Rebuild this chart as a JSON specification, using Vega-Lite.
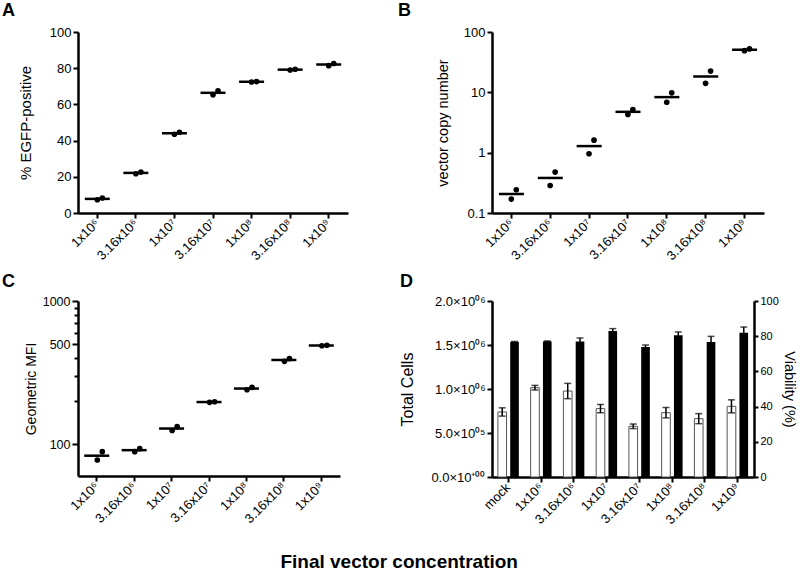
{
  "$schema": "https://vega.github.io/schema/vega-lite/v6.json",
  "padding": {"left": 2, "top": 2, "right": 0, "bottom": 0},
  "background": "white",
  "config": {
    "font": "Liberation Sans",
    "view": {"stroke": null},
    "axis": {"domainColor": "black", "domainWidth": 2.5, "tickColor": "black", "tickWidth": 2, "tickSize": 5, "labelColor": "black", "titleColor": "black", "labelFontSize": 13, "titleFontSize": 14.5, "titleFontWeight": "normal", "grid": false, "labelPadding": 2, "labelOverlap": false},
    "title": {"fontSize": 18, "fontWeight": "bold", "color": "black", "anchor": "start", "frame": "group"}
  },
  "title": {"text": "Final vector concentration", "orient": "bottom", "anchor": "middle", "frame": "bounds", "fontSize": 19, "fontWeight": "bold", "offset": 26},
  "datasets": {
    "egfp": [
      {"conc": "1x10⁶", "rep": 1, "value": 7.3}, {"conc": "1x10⁶", "rep": 2, "value": 8.3},
      {"conc": "3.16x10⁶", "rep": 1, "value": 21.7}, {"conc": "3.16x10⁶", "rep": 2, "value": 22.6},
      {"conc": "1x10⁷", "rep": 1, "value": 43.5}, {"conc": "1x10⁷", "rep": 2, "value": 44.6},
      {"conc": "3.16x10⁷", "rep": 1, "value": 65.3}, {"conc": "3.16x10⁷", "rep": 2, "value": 67.5},
      {"conc": "1x10⁸", "rep": 1, "value": 72.4}, {"conc": "1x10⁸", "rep": 2, "value": 72.6},
      {"conc": "3.16x10⁸", "rep": 1, "value": 79.0}, {"conc": "3.16x10⁸", "rep": 2, "value": 79.4},
      {"conc": "1x10⁹", "rep": 1, "value": 81.4}, {"conc": "1x10⁹", "rep": 2, "value": 82.6}
    ],
    "vcn": [
      {"conc": "1x10⁶", "rep": 1, "value": 0.17}, {"conc": "1x10⁶", "rep": 2, "value": 0.243},
      {"conc": "3.16x10⁶", "rep": 1, "value": 0.286}, {"conc": "3.16x10⁶", "rep": 2, "value": 0.476},
      {"conc": "1x10⁷", "rep": 1, "value": 0.96}, {"conc": "1x10⁷", "rep": 2, "value": 1.61},
      {"conc": "3.16x10⁷", "rep": 1, "value": 4.3}, {"conc": "3.16x10⁷", "rep": 2, "value": 5.2},
      {"conc": "1x10⁸", "rep": 1, "value": 6.86}, {"conc": "1x10⁸", "rep": 2, "value": 9.8},
      {"conc": "3.16x10⁸", "rep": 1, "value": 14.1}, {"conc": "3.16x10⁸", "rep": 2, "value": 22.5},
      {"conc": "1x10⁹", "rep": 1, "value": 49}, {"conc": "1x10⁹", "rep": 2, "value": 52.5}
    ],
    "mfi": [
      {"conc": "1x10⁶", "rep": 1, "value": 77.6}, {"conc": "1x10⁶", "rep": 2, "value": 88.7},
      {"conc": "3.16x10⁶", "rep": 1, "value": 88.7}, {"conc": "3.16x10⁶", "rep": 2, "value": 93.1},
      {"conc": "1x10⁷", "rep": 1, "value": 124.6}, {"conc": "1x10⁷", "rep": 2, "value": 132.8},
      {"conc": "3.16x10⁷", "rep": 1, "value": 196}, {"conc": "3.16x10⁷", "rep": 2, "value": 198},
      {"conc": "1x10⁸", "rep": 1, "value": 240}, {"conc": "1x10⁸", "rep": 2, "value": 249.5},
      {"conc": "3.16x10⁸", "rep": 1, "value": 379}, {"conc": "3.16x10⁸", "rep": 2, "value": 396},
      {"conc": "1x10⁹", "rep": 1, "value": 487}, {"conc": "1x10⁹", "rep": 2, "value": 491}
    ],
    "viab": [
      {"conc": "mock", "measure": "Total Cells", "value": 739000, "lo": 692000, "hi": 786000},
      {"conc": "1x10⁶", "measure": "Total Cells", "value": 1015000, "lo": 989000, "hi": 1041000},
      {"conc": "3.16x10⁶", "measure": "Total Cells", "value": 977000, "lo": 890000, "hi": 1064000},
      {"conc": "1x10⁷", "measure": "Total Cells", "value": 777000, "lo": 730000, "hi": 824000},
      {"conc": "3.16x10⁷", "measure": "Total Cells", "value": 576000, "lo": 550000, "hi": 602000},
      {"conc": "1x10⁸", "measure": "Total Cells", "value": 731000, "lo": 672000, "hi": 790000},
      {"conc": "3.16x10⁸", "measure": "Total Cells", "value": 663000, "lo": 606000, "hi": 720000},
      {"conc": "1x10⁹", "measure": "Total Cells", "value": 803000, "lo": 729000, "hi": 877000},
      {"conc": "mock", "measure": "Viability", "value": 76.7, "lo": 76.4, "hi": 77.0},
      {"conc": "1x10⁶", "measure": "Viability", "value": 77.0, "lo": 76.7, "hi": 77.3},
      {"conc": "3.16x10⁶", "measure": "Viability", "value": 77.0, "lo": 75.0, "hi": 79.0},
      {"conc": "1x10⁷", "measure": "Viability", "value": 83.0, "lo": 81.7, "hi": 84.3},
      {"conc": "3.16x10⁷", "measure": "Viability", "value": 73.9, "lo": 72.8, "hi": 75.0},
      {"conc": "1x10⁸", "measure": "Viability", "value": 80.5, "lo": 78.6, "hi": 82.4},
      {"conc": "3.16x10⁸", "measure": "Viability", "value": 76.7, "lo": 73.5, "hi": 79.9},
      {"conc": "1x10⁹", "measure": "Viability", "value": 82.0, "lo": 78.8, "hi": 85.2}
    ]
  },
  "columns": 2,
  "spacing": {"row": 10, "column": 50},
  "concat": [
    {
      "width": 270, "height": 181,
      "title": {"text": "A", "dx": -76, "offset": 6},
      "data": {"name": "egfp"},
      "encoding": {
        "x": {"field": "conc", "type": "nominal", "sort": ["1x10⁶","3.16x10⁶","1x10⁷","3.16x10⁷","1x10⁸","3.16x10⁸","1x10⁹"], "scale": {"type": "band", "paddingInner": 0, "paddingOuter": 0},
              "axis": {"title": null, "labelAngle": -45, "labelAlign": "right", "labelBaseline": "middle", "labelPadding": 3, "labelOverlap": false}}
      },
      "layer": [
        {"mark": {"type": "tick", "color": "black", "thickness": 2.5, "size": 25},
         "encoding": {"y": {"aggregate": "mean", "field": "value", "type": "quantitative", "title": "% EGFP-positive", "scale": {"domain": [0, 100], "nice": false},
                            "axis": {"values": [0, 20, 40, 60, 80, 100], "tickCount": 6, "labelOverlap": false, "titlePadding": 16, "titleFontSize": 15}}}},
        {"mark": {"type": "circle", "color": "black", "size": 32, "opacity": 1},
         "encoding": {"y": {"field": "value", "type": "quantitative", "title": "% EGFP-positive"},
                      "xOffset": {"field": "rep", "type": "nominal", "scale": {"type": "band", "domain": [1, 2], "range": [16.8, 26.8]}}}}
      ]
    },
    {
      "width": 272, "height": 181,
      "title": {"text": "B", "dx": -94, "offset": 6},
      "data": {"name": "vcn"},
      "encoding": {
        "x": {"field": "conc", "type": "nominal", "sort": ["1x10⁶","3.16x10⁶","1x10⁷","3.16x10⁷","1x10⁸","3.16x10⁸","1x10⁹"], "scale": {"type": "band", "paddingInner": 0, "paddingOuter": 0},
              "axis": {"title": null, "labelAngle": -45, "labelAlign": "right", "labelBaseline": "middle", "labelPadding": 3, "labelOverlap": false}}
      },
      "layer": [
        {"mark": {"type": "tick", "color": "black", "thickness": 2.5, "size": 25},
         "encoding": {"y": {"aggregate": "mean", "field": "value", "type": "quantitative", "title": "vector copy number", "scale": {"type": "log", "domain": [0.1, 100], "nice": false},
                            "axis": {"values": [0.1, 1, 10, 100], "tickCount": 4, "format": "~g", "labelOverlap": false, "titlePadding": 13, "titleFontSize": 14.5}}}},
        {"mark": {"type": "circle", "color": "black", "size": 32, "opacity": 1},
         "encoding": {"y": {"field": "value", "type": "quantitative", "title": "vector copy number", "scale": {"type": "log", "domain": [0.1, 100], "nice": false}},
                      "xOffset": {"field": "rep", "type": "nominal", "scale": {"type": "band", "domain": [1, 2], "range": [16.9, 26.9]}}}}
      ]
    },
    {
      "width": 262, "height": 175,
      "title": {"text": "C", "dx": -76, "offset": 4},
      "data": {"name": "mfi"},
      "encoding": {
        "x": {"field": "conc", "type": "nominal", "sort": ["1x10⁶","3.16x10⁶","1x10⁷","3.16x10⁷","1x10⁸","3.16x10⁸","1x10⁹"], "scale": {"type": "band", "paddingInner": 0, "paddingOuter": 0},
              "axis": {"title": null, "labelAngle": -45, "labelAlign": "right", "labelBaseline": "middle", "labelPadding": 3, "labelOverlap": false}}
      },
      "layer": [
        {"mark": {"type": "tick", "color": "black", "thickness": 2.5, "size": 25},
         "encoding": {"y": {"aggregate": "mean", "field": "value", "type": "quantitative", "title": "Geometric MFI", "scale": {"type": "log", "domain": [60, 1000], "nice": false},
                            "axis": {"values": [100, 200, 300, 400, 500, 600, 700, 800, 900, 1000], "tickCount": 10,
                                     "labelExpr": "datum.value == 100 || datum.value == 500 || datum.value == 1000 ? format(datum.value, 'd') : ''",
                                     "tickSize": {"condition": {"test": "datum.value == 100 || datum.value == 500 || datum.value == 1000", "value": 6}, "value": 4},
                                     "labelOverlap": false, "titlePadding": 4, "titleFontSize": 14, "labelFontSize": 12.5}}}},
        {"mark": {"type": "circle", "color": "black", "size": 32, "opacity": 1},
         "encoding": {"y": {"field": "value", "type": "quantitative", "title": "Geometric MFI", "scale": {"type": "log", "domain": [60, 1000], "nice": false}},
                      "xOffset": {"field": "rep", "type": "nominal", "scale": {"type": "band", "domain": [1, 2], "range": [16.2, 26.2]}}}}
      ]
    },
    {
      "width": 262, "height": 176,
      "title": {"text": "D", "dx": -92, "offset": 4},
      "data": {"name": "viab"},
      "encoding": {
        "x": {"field": "conc", "type": "nominal", "sort": ["mock","1x10⁶","3.16x10⁶","1x10⁷","3.16x10⁷","1x10⁸","3.16x10⁸","1x10⁹"], "scale": {"type": "band", "paddingInner": 0, "paddingOuter": 0},
              "axis": {"title": null, "labelAngle": -45, "labelAlign": "right", "labelBaseline": "middle", "labelPadding": 3, "labelOverlap": false}}
      },
      "layer": [
        {
          "transform": [{"filter": "datum.measure == 'Total Cells'"}],
          "layer": [
            {"mark": {"type": "bar", "fill": "white", "stroke": "#555555", "strokeWidth": 1, "width": {"band": 0.264}, "xOffset": -6.15},
             "encoding": {"y": {"field": "value", "type": "quantitative", "title": "Total Cells", "scale": {"domain": [0, 2000000], "nice": false},
                                "axis": {"values": [0, 500000, 1000000, 1500000, 2000000], "tickCount": 5, "labelOverlap": false,
                                         "labelExpr": "datum.value == 0 ? '0.0×10⁺⁰⁰' : datum.value == 500000 ? '5.0×10⁰⁵' : format(datum.value / 1000000, '.1f') + '×10⁰⁶'",
                                         "titlePadding": 15, "titleFontSize": 16}}}},
            {"mark": {"type": "rule", "color": "black", "strokeWidth": 1.5, "xOffset": -6.15},
             "encoding": {"y": {"field": "lo", "type": "quantitative", "title": "Total Cells"}, "y2": {"field": "hi"}}},
            {"mark": {"type": "tick", "color": "black", "thickness": 1.5, "size": 7, "xOffset": -6.15},
             "encoding": {"y": {"field": "lo", "type": "quantitative", "title": "Total Cells"}}},
            {"mark": {"type": "tick", "color": "black", "thickness": 1.5, "size": 7, "xOffset": -6.15},
             "encoding": {"y": {"field": "hi", "type": "quantitative", "title": "Total Cells"}}}
          ]
        },
        {
          "transform": [{"filter": "datum.measure == 'Viability'"}],
          "layer": [
            {"mark": {"type": "bar", "fill": "black", "width": {"band": 0.264}, "xOffset": 6.15},
             "encoding": {"y": {"field": "value", "type": "quantitative", "title": "Viability (%)", "scale": {"domain": [0, 100], "nice": false},
                                "axis": {"orient": "right", "values": [0, 20, 40, 60, 80, 100], "tickCount": 6, "tickSize": 4, "labelOverlap": false, "titlePadding": 3, "titleFontSize": 14.5, "labelFontSize": 11}}}},
            {"mark": {"type": "rule", "color": "black", "strokeWidth": 1.5, "xOffset": 6.15},
             "encoding": {"y": {"field": "lo", "type": "quantitative", "title": "Viability (%)"}, "y2": {"field": "hi"}}},
            {"mark": {"type": "tick", "color": "black", "thickness": 1.5, "size": 7, "xOffset": 6.15},
             "encoding": {"y": {"field": "lo", "type": "quantitative", "title": "Viability (%)"}}},
            {"mark": {"type": "tick", "color": "black", "thickness": 1.5, "size": 7, "xOffset": 6.15},
             "encoding": {"y": {"field": "hi", "type": "quantitative", "title": "Viability (%)"}}}
          ]
        }
      ],
      "resolve": {"scale": {"y": "independent"}}
    }
  ]
}
